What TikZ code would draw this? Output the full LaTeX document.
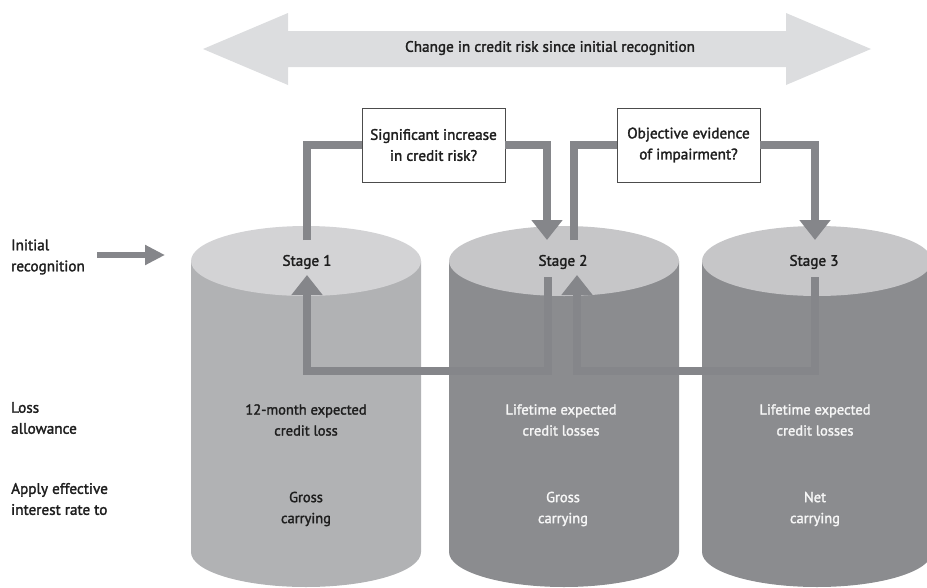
\documentclass[tikz,border=0pt]{standalone}
\usepackage{fontspec}
\setmainfont{PT Sans}[FakeBold=1.8]
\usetikzlibrary{arrows.meta}
\definecolor{bigarrow}{HTML}{DCDDDF}
\definecolor{arr}{HTML}{85868A}
\definecolor{topA}{HTML}{D3D3D5}
\definecolor{bodyA}{HTML}{B1B2B4}
\definecolor{topB}{HTML}{C6C6C8}
\definecolor{bodyB}{HTML}{8B8C8F}
\definecolor{txt}{HTML}{1E1E1E}
\definecolor{wtxt}{HTML}{F6F6F6}
\begin{document}
\begin{tikzpicture}[x=1pt,y=-1pt,
  font=\fontsize{15.2}{21}\selectfont,
  lbl/.style={align=left, anchor=west, text=txt, inner sep=0pt},
  ctext/.style={align=center, inner sep=0pt, text=txt},
  cyltext/.style={align=center, inner sep=0pt, font=\fontsize{14.5}{21}\selectfont},
  dtext/.style={cyltext, text=txt},
  wtext/.style={cyltext, text=wtxt},
  qbox/.style={draw=black!70, line width=0.8pt, fill=white, minimum width=143pt, minimum height=74pt, align=center, text=txt, inner sep=0pt},
  flow/.style={draw=arr, line width=8pt, line join=miter},
  tipped/.style={-{Triangle[width=30pt,length=20pt]}},
]
\useasboundingbox (0,0) rectangle (927,587);

% big double arrow
\fill[bigarrow] (203,49) -- (288,13) -- (288,31) -- (786,31) -- (786,13) -- (871,49)
  -- (786,85) -- (786,67) -- (288,67) -- (288,85) -- cycle;
\node[ctext] (change) at (550,48) {Change in credit risk since initial recognition};

% cylinders
\foreach \cx/\tc/\bc in {306/topA/bodyA, 564/topB/bodyB, 817/topB/bodyB} {
  \fill[\bc] (\cx-115,261) -- (\cx-115,552) arc[start angle=180,end angle=0,x radius=115,y radius=35] -- (\cx+115,261) -- cycle;
  \fill[\tc] (\cx,261) ellipse[x radius=115,y radius=35];
}

% question boxes
\node[qbox] (q1) at (433.5,145) {Significant increase\\in credit risk?};
\node[qbox] (q2) at (688.5,145) {Objective evidence\\of impairment?};

% stage labels
\node[ctext] (s1) at (307,262) {Stage 1};
\node[ctext] (s2) at (563,262) {Stage 2};
\node[ctext] (s3) at (814,262) {Stage 3};

% cylinder texts
\node[dtext] (l1) at (306,420) {12-month expected\\credit loss};
\node[wtext] (l2) at (561,420) {Lifetime expected\\credit losses};
\node[wtext] (l3) at (815,420) {Lifetime expected\\credit losses};
\node[dtext] (g1) at (306,509) {Gross\\carrying};
\node[wtext] (g2) at (563,509) {Gross\\carrying};
\node[wtext] (g3) at (815,509) {Net\\carrying};

% left labels
\node[lbl] (init) at (11,257) {Initial\\recognition};
\node[lbl] (loss) at (11,418) {Loss\\allowance};
\node[lbl] (eir) at (11,499) {Apply effective\\interest rate to};

% connector coordinates
\coordinate (ia) at (97,255);
\coordinate (ib) at (165,255);
\coordinate (s1up) at (307,240);
\coordinate (s2in) at (547,240);
\coordinate (s2up) at (574,240);
\coordinate (s3in) at (815,240);
\coordinate (s3down) at (815,277);
\coordinate (s2back) at (577,275);
\coordinate (s2down) at (548,277);
\coordinate (s1back) at (307,275);

% initial recognition arrow
\draw[draw=arr, line width=6pt, -{Triangle[width=19pt,length=20pt]}] (ia) -- (ib);

% forward flows
\draw[flow] (s1up) |- (q1.west);
\draw[flow,tipped] (q1.east) -| (s2in);
\draw[flow] (s2up) |- (q2.west);
\draw[flow,tipped] (q2.east) -| (s3in);

% return flows
\draw[flow,tipped] (s3down) -- ++(0,94) -| (s2back);
\draw[flow,tipped] (s2down) -- ++(0,94) -| (s1back);
\end{tikzpicture}
\end{document}
